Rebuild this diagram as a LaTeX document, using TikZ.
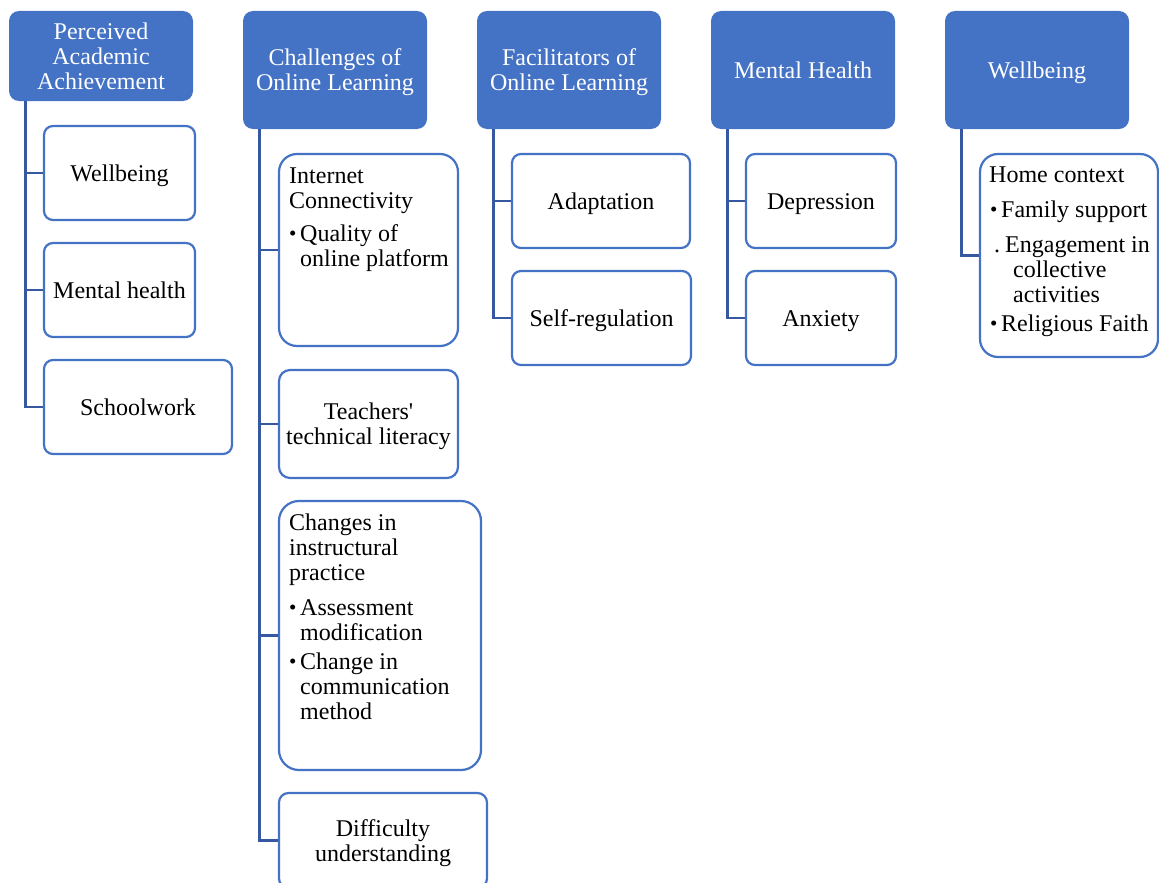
\documentclass[tikz,border=0pt]{standalone}
\usepackage{fontspec}
\setmainfont{Liberation Serif}
\definecolor{hdrblue}{HTML}{4472C4}
\definecolor{boxblue}{HTML}{4472C4}
\definecolor{linkblue}{HTML}{3558A0}
\newcommand\boxfont{\fontsize{24}{25}\selectfont}
% invisible struts for the font's full ascent (first line) and descent (last line)
\newcommand\ltop{\rule{0pt}{21.4pt}}
\newcommand\lbot{\rule[-5.2pt]{0pt}{5.2pt}}
\newcommand\bul{\raisebox{0.3pt}{\fontsize{21}{21}\selectfont\textbullet}}
\begin{document}
\begin{tikzpicture}[x=1pt,y=-1pt,
  hdr/.style={fill=hdrblue, draw=none, text=white, align=center, font=\boxfont,
              inner sep=0pt, rounded corners=10pt, minimum width=184pt},
  sub/.style={draw=boxblue, line width=2.2pt, fill=white, align=center, font=\boxfont,
              inner sep=0pt},
  txt/.style={anchor=base west, inner sep=0pt, font=\boxfont},
  link/.style={draw=linkblue, line width=2.8pt}]
\useasboundingbox (0,0) rectangle (1159,883);

% column headers
\node[hdr, minimum height=90pt]  (h1) at (101,56) {\ltop Perceived\\Academic\\Achievement\lbot};
\node[hdr, minimum height=118pt] (h2) at (335,70) {\ltop Challenges of\\Online Learning\lbot};
\node[hdr, minimum height=118pt] (h3) at (569,70) {\ltop Facilitators of\\Online Learning\lbot};
\node[hdr, minimum height=118pt] (h4) at (803,70) {\ltop Mental Health\lbot};
\node[hdr, minimum height=118pt] (h5) at (1037,70) {\ltop Wellbeing\lbot};

% Perceived academic achievement
\node[sub, minimum width=151pt, minimum height=94pt, rounded corners=9pt] (a1) at (119.5,173) {\ltop Wellbeing\lbot};
\node[sub, minimum width=151pt, minimum height=94pt, rounded corners=9pt] (a2) at (119.5,290) {\ltop Mental health\lbot};
\node[sub, minimum width=188pt, minimum height=94pt, rounded corners=9pt] (a3) at (138,407) {\ltop Schoolwork\lbot};

% Challenges of online learning
\node[sub, minimum width=179pt, minimum height=192pt, rounded corners=18pt] (b1) at (368.5,250) {};
\node[txt] (tb1) at (289,183) {\begin{tabular}[t]{@{}l@{}}
  Internet\\
  Connectivity\\[8pt]
  \makebox[11pt][l]{\bul}Quality of\\
  \hspace{11pt}online platform
\end{tabular}};
\node[sub, minimum width=179pt, minimum height=108pt, rounded corners=11pt] (b2) at (368.5,424) {\ltop Teachers\textquotesingle\\technical literacy\lbot};
\node[sub, minimum width=202pt, minimum height=269pt, rounded corners=20pt] (b3) at (380,635.5) {};
\node[txt] (tb3) at (289,530) {\begin{tabular}[t]{@{}l@{}}
  Changes in\\
  instructural\\
  practice\\[10pt]
  \makebox[11pt][l]{\bul}Assessment\\
  \hspace{11pt}modification\\[4pt]
  \makebox[11pt][l]{\bul}Change in\\
  \hspace{11pt}communication\\
  \hspace{11pt}method
\end{tabular}};
\node[sub, minimum width=208pt, minimum height=95pt, rounded corners=9.5pt] (b4) at (383,840.5) {\ltop Difficulty\\understanding\lbot};

% Facilitators of online learning
\node[sub, minimum width=178pt, minimum height=94pt, rounded corners=9pt] (c1) at (601,201) {\ltop Adaptation\lbot};
\node[sub, minimum width=179pt, minimum height=94pt, rounded corners=9pt] (c2) at (601.5,318) {\ltop Self-regulation\lbot};

% Mental health
\node[sub, minimum width=150pt, minimum height=94pt, rounded corners=9pt] (d1) at (821,201) {\ltop Depression\lbot};
\node[sub, minimum width=150pt, minimum height=94pt, rounded corners=9pt] (d2) at (821,318) {\ltop Anxiety\lbot};

% Wellbeing
\node[sub, minimum width=178pt, minimum height=203pt, rounded corners=18pt] (e1) at (1069,255.5) {};
\node[txt] (te1) at (989,182) {\begin{tabular}[t]{@{}l@{}}
  Home context\\[10pt]
  \hspace{1pt}\makebox[11pt][l]{\bul}Family support\\[10pt]
  \hspace{5pt}\makebox[11pt][l]{.}Engagement in\\
  \hspace{24pt}collective\\
  \hspace{24pt}activities\\[4pt]
  \hspace{1pt}\makebox[11pt][l]{\bul}Religious Faith
\end{tabular}};

% trunk points under each header
\coordinate (s1) at ([xshift=17pt]h1.south west);
\coordinate (s2) at ([xshift=17pt]h2.south west);
\coordinate (s3) at ([xshift=17pt]h3.south west);
\coordinate (s4) at ([xshift=17pt]h4.south west);
\coordinate (s5) at ([xshift=17pt]h5.south west);

% connectors
\draw[link] (s1) |- (a3.west);
\draw[link] (s1 |- a1.west) -- (a1.west);
\draw[link] (s1 |- a2.west) -- (a2.west);

\draw[link] (s2) |- (b4.west);
\draw[link] (s2 |- b1.west) -- (b1.west);
\draw[link] (s2 |- b2.west) -- (b2.west);
\draw[link] (s2 |- b3.west) -- (b3.west);

\draw[link] (s3) |- (c2.west);
\draw[link] (s3 |- c1.west) -- (c1.west);

\draw[link] (s4) |- (d2.west);
\draw[link] (s4 |- d1.west) -- (d1.west);

\draw[link] (s5) |- (e1.west);
\end{tikzpicture}
\end{document}
